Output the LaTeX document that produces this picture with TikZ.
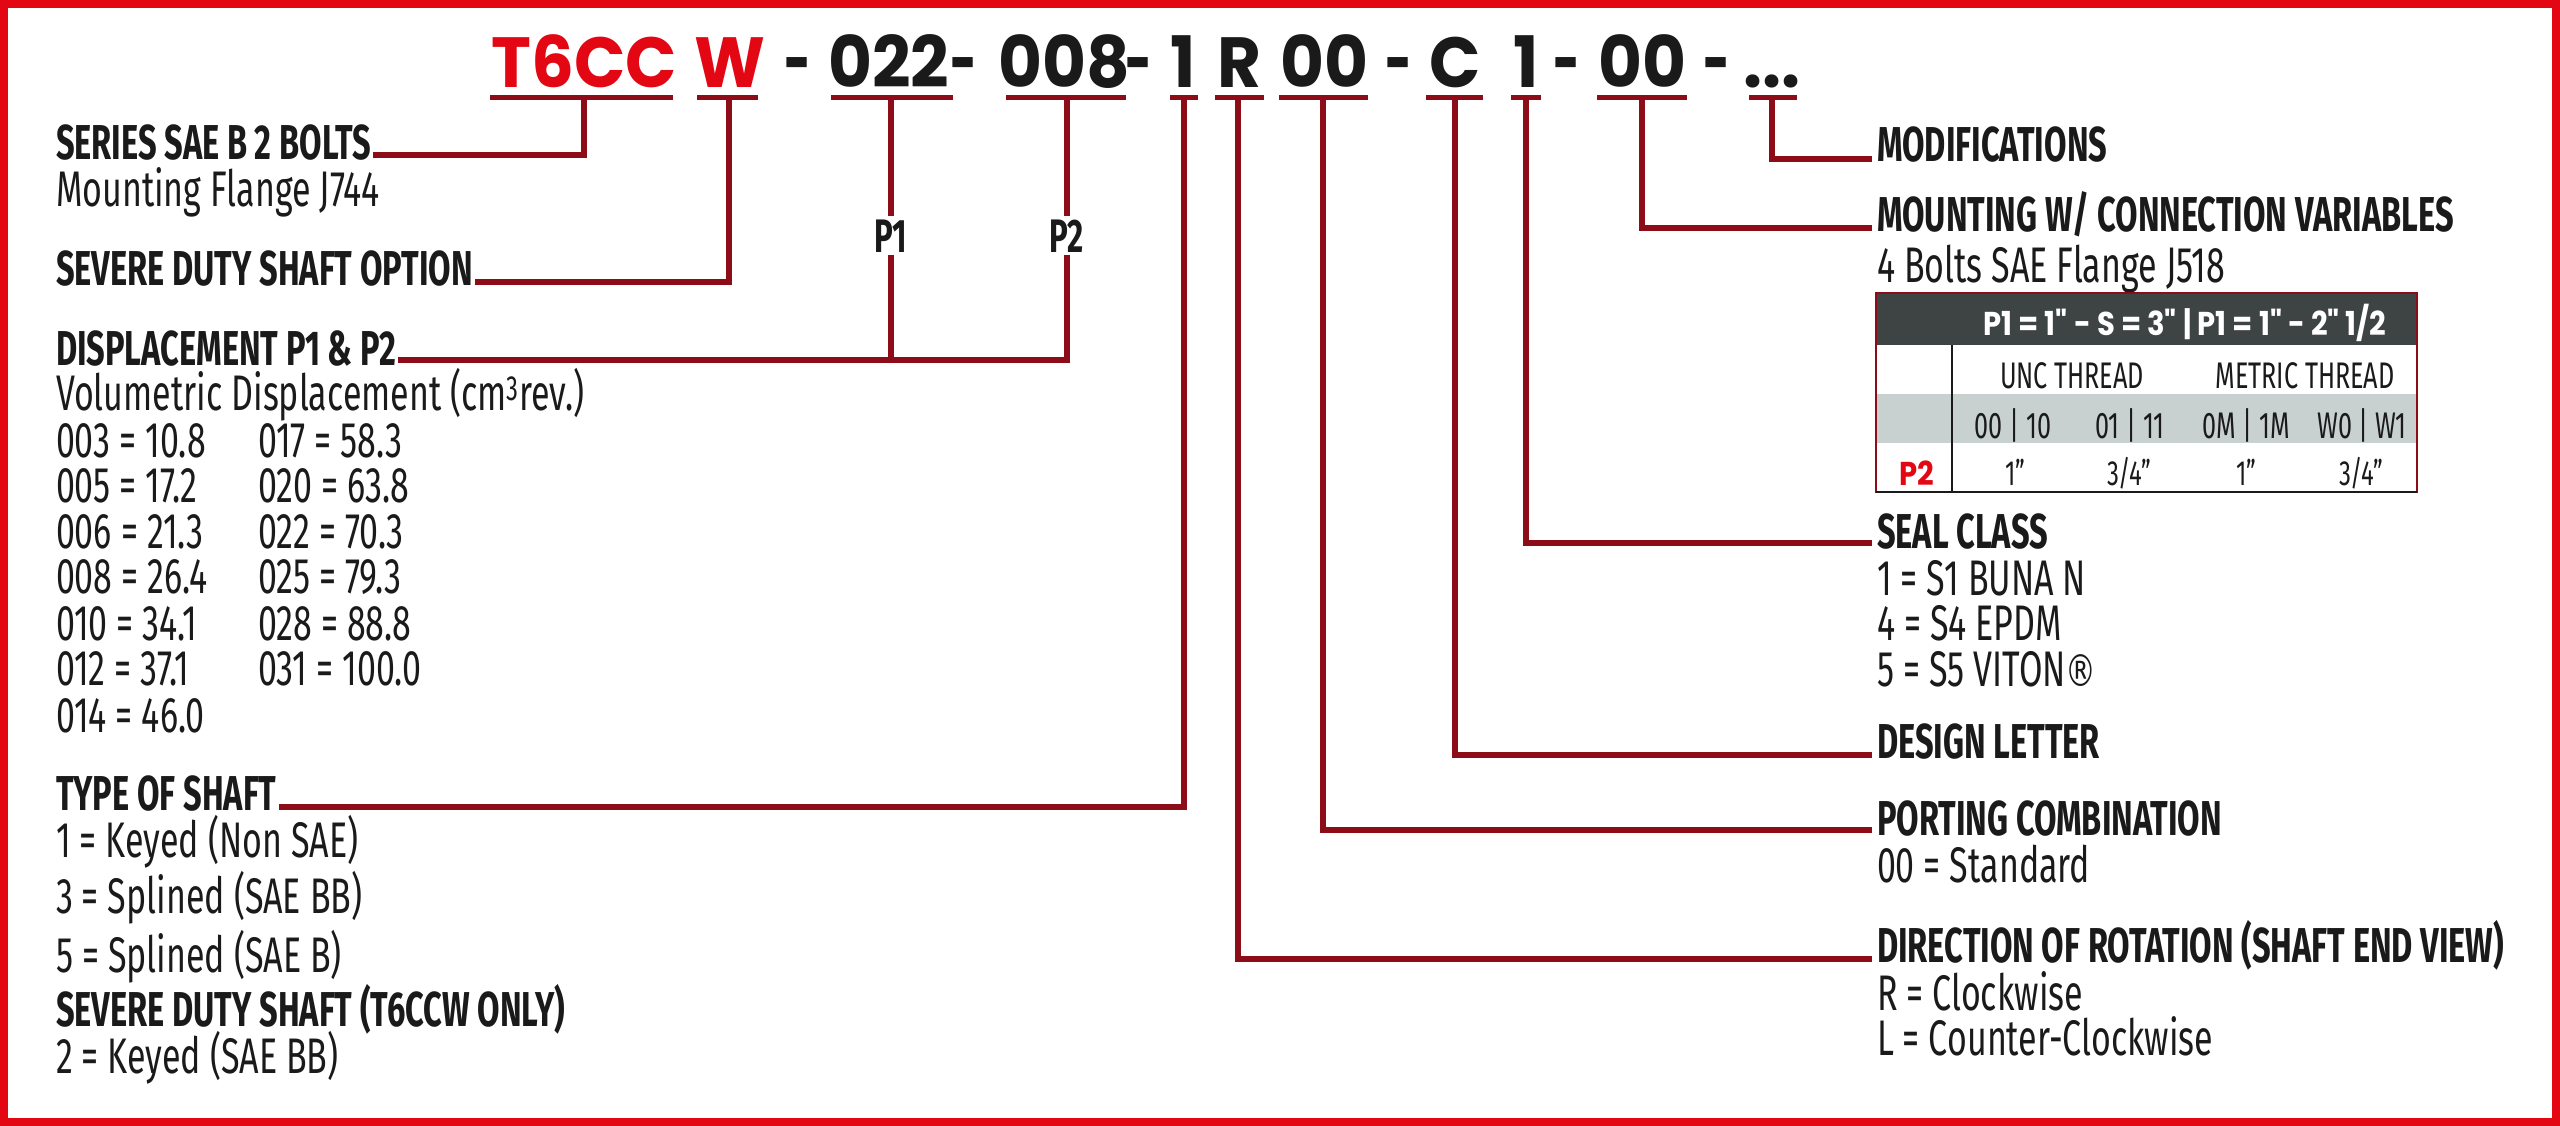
\documentclass[tikz,border=0pt]{standalone}
\usepackage{fontspec}
\setmainfont{Fira Sans}[FakeStretch=0.68,BoldFeatures={FakeStretch=0.665}]
\newfontfamily\popfont{Poppins}[FakeStretch=0.95]
\newfontfamily\popdash{Poppins}[FakeStretch=0.65]
\newfontfamily\popnarrow{Poppins}[FakeStretch=0.88]
\newfontfamily\djv{DejaVu Sans}[FakeStretch=0.7]
\definecolor{bred}{RGB}{227,6,19}
\definecolor{dred}{RGB}{140,12,24}
\definecolor{ink}{RGB}{26,26,26}
\definecolor{hgray}{RGB}{62,67,67}
\definecolor{lgray}{RGB}{200,209,208}
\begin{document}
\begin{tikzpicture}[x=1pt,y=-1pt,
  conn/.style={draw=dred,line width=6pt,line join=miter},
  uline/.style={draw=dred,line width=5.5pt},
  hd/.style={anchor=base west,inner sep=0pt,outer sep=0pt,text=ink,font=\fontsize{49}{49}\selectfont\bfseries},
  tx/.style={anchor=base west,inner sep=0pt,outer sep=0pt,text=ink,font=\fontsize{50}{50}\selectfont},
  code/.style={anchor=base,inner sep=0pt,outer sep=0pt,text=ink,font=\popfont\bfseries\fontsize{71}{71}\selectfont},
  codedash/.style={code,font=\popdash\bfseries\fontsize{71}{71}\selectfont},
  pl/.style={anchor=base,inner sep=3pt,outer sep=0pt,text=ink,font=\fontsize{47}{47}\selectfont\bfseries},
  th/.style={anchor=base,inner sep=0pt,text=white,font=\popnarrow\bfseries\fontsize{33}{33}\selectfont},
  tc/.style={anchor=base,inner sep=0pt,text=ink,font=\fontsize{37}{37}\selectfont},
  tv/.style={anchor=base,inner sep=0pt,text=ink,font=\fontsize{35}{35}\selectfont}
]
\useasboundingbox (0,0) rectangle (2560,1126);
\draw[draw=bred,line width=8pt] (4,4) rectangle (2556,1122);

% ---- code row
\node[code,text=bred] (cT) at (584,88) {T6CC};
\node[code,text=bred] (cW) at (730,88) {W};
\node[codedash] (d1) at (798,88) {-};
\node[code] (cP1) at (889,88) {022};
\node[codedash] (d2) at (964,88) {-};
\node[code] (cP2) at (1064,88) {008};
\node[codedash] (d3) at (1139,88) {-};
\node[code] (cS) at (1183,88) {1};
\node[code] (cR) at (1239,88) {R};
\node[code] (cPC) at (1324,88) {00};
\node[codedash] (d4) at (1399,88) {-};
\node[code] (cC) at (1455,88) {C};
\node[code] (cSe) at (1526,88) {1};
\node[codedash] (d5) at (1567,88) {-};
\node[code] (cM) at (1642,88) {00};
\node[codedash] (d6) at (1717,88) {-};
\node[code] (cMod) at (1772,88) {...};

\foreach \a/\b in {490/673,697/758,831/953,1006/1126,1170/1198,1215/1264,1279/1368,1426/1483,1511/1541,1597/1687,1749/1797}
  \draw[uline] (\a,97.5) -- (\b,97.5);

\coordinate (uT) at (584,97.5);
\coordinate (uW) at (729,97.5);
\coordinate (uP1) at (891,97.5);
\coordinate (uP2) at (1067,97.5);
\coordinate (uS) at (1184,97.5);
\coordinate (uR) at (1238,97.5);
\coordinate (uPC) at (1323,97.5);
\coordinate (uC) at (1455,97.5);
\coordinate (uSe) at (1526,97.5);
\coordinate (uM) at (1642,97.5);
\coordinate (uMod) at (1772,97.5);

% ---- left labels
\node[hd] (ser) at (56,160) {SERIES SAE B 2 BOLTS};
\node[tx] (mfl) at (56,207) {Mounting Flange J744};
\node[hd] (sdso) at (56,285) {SEVERE DUTY SHAFT OPTION};
\node[hd] (disp) at (56,365) {DISPLACEMENT P1 \& P2};
\node[tx] (vol) at (56,410) {Volumetric Displacement (cm\textsuperscript{3}rev.)};
\foreach \y/\l/\r [count=\i] in {457/003 = 10.8/017 = 58.3, 502/005 = 17.2/020 = 63.8, 548/006 = 21.3/022 = 70.3, 593/008 = 26.4/025 = 79.3, 640/010 = 34.1/028 = 88.8, 685/012 = 37.1/031 = 100.0}{
  \node[tx] (vl\i) at (56,\y) {\l};
  \node[tx] (vr\i) at (258,\y) {\r};
}
\node[tx] (vl7) at (56,732) {014 = 46.0};
\node[hd] (tos) at (56,810) {TYPE OF SHAFT};
\node[tx] (k1) at (56,857) {1 = Keyed (Non SAE)};
\node[tx] (sp3) at (56,913) {3 = Splined (SAE BB)};
\node[tx] (sp5) at (56,972) {5 = Splined (SAE B)};
\node[hd] (sdst) at (56,1026) {SEVERE DUTY SHAFT (T6CCW ONLY)};
\node[tx] (k2) at (56,1073) {2 = Keyed (SAE BB)};

% ---- P1 / P2 labels
\node[pl] (p1) at (891,252) {P1};
\node[pl] (p2) at (1067,252) {P2};

% ---- right labels
\node[hd] (mod) at (1877,162) {MODIFICATIONS};
\node[hd] (mount) at (1877,232) {MOUNTING W/ CONNECTION VARIABLES};
\node[tx] (bolts) at (1877,283) {4 Bolts SAE Flange J518};
\node[hd] (seal) at (1877,548) {SEAL CLASS};
\node[tx] (se1) at (1877,595) {1 = S1 BUNA N};
\node[tx] (se4) at (1877,640) {4 = S4 EPDM};
\node[tx] (se5) at (1877,686) {5 = S5 VITON{\djv\fontsize{44}{44}\selectfont ®}};
\node[hd] (des) at (1877,758) {DESIGN LETTER};
\node[hd] (port) at (1877,835) {PORTING COMBINATION};
\node[tx] (std) at (1877,882) {00 = Standard};
\node[hd] (dir) at (1877,962) {DIRECTION OF ROTATION (SHAFT END VIEW)};
\node[tx] (cw) at (1877,1010) {R = Clockwise};
\node[tx] (ccw) at (1877,1055) {L = Counter-Clockwise};

% ---- connectors
\draw[conn] (uT) |- ([xshift=2pt,yshift=5pt]ser.base east);
\draw[conn] (uW) |- ([xshift=2pt,yshift=3pt]sdso.base east);
\coordinate (dj) at ([xshift=2pt,yshift=5pt]disp.base east);
\draw[conn] (uP1) -- (p1.north);
\draw[conn] (uP2) -- (p2.north);
\draw[conn] (p1.south) -- (p1.south |- dj);
\draw[conn] (dj) -| (p2.south);
\draw[conn] (uS) |- ([xshift=2pt,yshift=3pt]tos.base east);
\draw[conn] (uR) |- ([xshift=-5pt,yshift=3pt]dir.base west);
\draw[conn] (uPC) |- ([xshift=-5pt,yshift=5pt]port.base west);
\draw[conn] (uC) |- ([xshift=-5pt,yshift=3pt]des.base west);
\draw[conn] (uSe) |- ([xshift=-5pt,yshift=5pt]seal.base west);
\draw[conn] (uM) |- ([xshift=-5pt,yshift=4pt]mount.base west);
\draw[conn] (uMod) |- ([xshift=-5pt,yshift=3pt]mod.base west);

% ---- table
\fill[hgray] (1876,293) rectangle (2417,345);
\fill[lgray] (1876,394) rectangle (2417,443);
\draw[ink,line width=2pt] (1952,345) -- (1952,492);
\draw[dred,line width=2.5pt] (1876,293) rectangle (2417,492);
\draw[ink,line width=2.5pt] (1876,492) -- (2417,492);
\node[th] (thd) at (2185,335) {P1 = 1" - S = 3" | P1 = 1" - 2" 1/2};
\node[tc] (unc) at (2072,388) {UNC THREAD};
\node[tc] (met) at (2305,388) {METRIC THREAD};
\node[tc] (a1) at (2013,438) {00 | 10};
\node[tc] (a2) at (2130,438) {01 | 11};
\node[tc] (a3) at (2246,438) {0M | 1M};
\node[tc] (a4) at (2362,438) {W0 | W1};
\node[th,text=bred] (tp2) at (1917,485) {P2};
\node[tv] (b1) at (2015,485) {1"};
\node[tv] (b2) at (2129,485) {3/4"};
\node[tv] (b3) at (2246,485) {1"};
\node[tv] (b4) at (2361,485) {3/4"};
\end{tikzpicture}
\end{document}
